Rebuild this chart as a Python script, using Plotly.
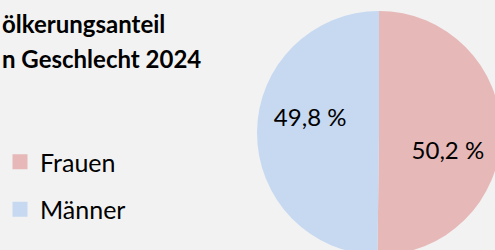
import plotly.graph_objects as go

labels = ["Frauen", "Männer"]
values = [50.2, 49.8]
colors = ["#E6B9B8", "#C6D9F1"]
title_lines = ["ölkerungsanteil", "n Geschlecht 2024"]

# figure is a little larger than the 495x250 window: the pie is cropped at right/bottom as in the reference
W, H = 501, 256
pie_domain = dict(x=[257 / W, 1], y=[0, 1 - 10 / H])

fig = go.Figure()

# visible pie
fig.add_trace(go.Pie(
    labels=labels, values=values, sort=False, direction="clockwise", rotation=0,
    marker=dict(colors=colors, line=dict(width=0)),
    textinfo="none", showlegend=False, hoverinfo="label+value",
    domain=pie_domain,
))
# transparent twin pie, turned a little, only to place the data labels like the reference
fig.add_trace(go.Pie(
    labels=labels, values=values, sort=False, direction="clockwise", rotation=13,
    hole=0.16,
    marker=dict(colors=["rgba(0,0,0,0)"] * len(values), line=dict(width=0)),
    texttemplate="%{value:.1f} %", textinfo="text", textposition="inside",
    insidetextorientation="horizontal",
    textfont=dict(family="Lato", size=24, color="#000000"),
    showlegend=False, hoverinfo="skip",
    domain=pie_domain,
))

for lab, col in zip(labels, colors):
    fig.add_trace(go.Scatter(
        x=[None], y=[None], mode="markers", name=lab, legendgroup=lab,
        marker=dict(symbol="square", size=15, color=col),
        showlegend=True, hoverinfo="skip",
    ))

for i, line in enumerate(title_lines):
    fig.add_annotation(
        text="<b>" + line + "</b>",
        xref="paper", yref="paper", x=0, y=1 - (23 + 35 * i) / H,
        xanchor="left", yanchor="middle", align="left", showarrow=False,
        font=dict(family="Lato", size=24, color="#000000"),
    )

fig.update_layout(
    width=W, height=H, margin=dict(l=0, r=0, t=0, b=0),
    paper_bgcolor="#F2F2F2", plot_bgcolor="#F2F2F2",
    separators=",.",
    xaxis=dict(visible=False), yaxis=dict(visible=False),
    legend=dict(x=0, y=1 - 139 / H, xanchor="left", yanchor="top",
                traceorder="grouped", tracegroupgap=12,
                font=dict(family="Lato", size=25, color="#000000"),
                bgcolor="rgba(0,0,0,0)"),
)

fig.write_html(
    "out.html",
    config={"displayModeBar": False},
    post_script="document.body.style.margin='0';document.body.style.overflow='hidden';",
)
